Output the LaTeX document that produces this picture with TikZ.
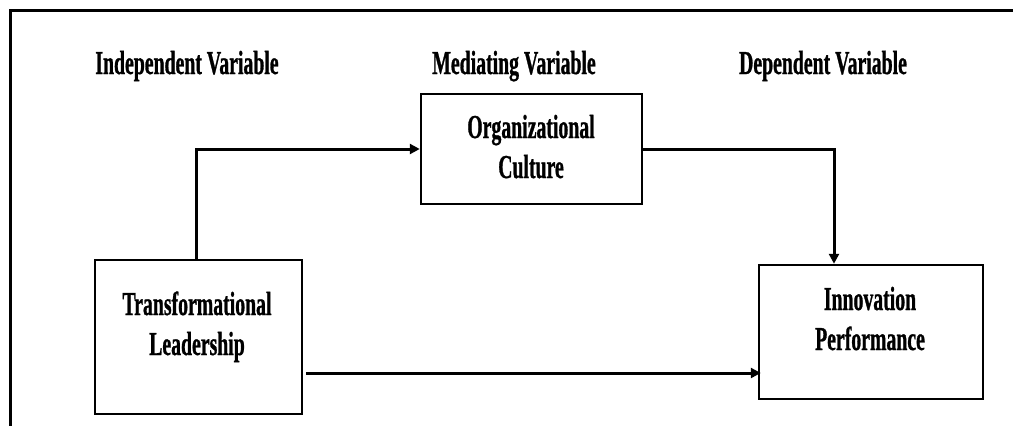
\documentclass[tikz,border=0pt]{standalone}
\usepackage{fontspec}
\setmainfont{Liberation Serif}[FakeStretch=0.59,BoldFeatures={FakeBold=0.8}]
\usetikzlibrary{arrows.meta}
\begin{document}
\begin{tikzpicture}[x=1pt,y=1pt,
  box/.style={draw=black,line width=2.5pt,inner sep=0pt,fill=white},
  lbl/.style={anchor=base,inner sep=0pt,font=\fontsize{33.5}{40}\selectfont\bfseries},
  arr/.style={line width=3pt,-{Triangle[length=10pt,width=10pt]}}]
\useasboundingbox (0,0) rectangle (1013,-426);
\fill[white] (0,0) rectangle (1013,-426);
\draw[line width=3pt] (10,-426) -- (10,-10) -- (1013,-10);
% headers
\node[lbl] (hiv) at (187,-74) {Independent Variable};
\node[lbl] (hmv) at (514,-74) {Mediating Variable};
\node[lbl] (hdv) at (823,-74) {Dependent Variable};
% boxes
\node[box,minimum width=207pt,minimum height=154pt] (tl) at (198.5,-337) {};
\node[box,minimum width=221pt,minimum height=110pt] (oc) at (531.5,-149) {};
\node[box,minimum width=224pt,minimum height=134pt] (ip) at (871,-332) {};
% box texts
\node[lbl] (tl1) at (197,-315) {Transformational};
\node[lbl] (tl2) at (197,-355) {Leadership};
\node[lbl] (oc1) at (531,-138) {Organizational};
\node[lbl] (oc2) at (531,-178) {Culture};
\node[lbl] (ip1) at (870,-310) {Innovation};
\node[lbl] (ip2) at (870,-350) {Performance};
% connectors
\draw[arr] ([xshift=-2.5pt]tl.north) |- (oc.west);
\draw[arr] (oc.east) -| ([xshift=-37pt]ip.north);
\draw[arr] ([shift={(3pt,-36pt)}]tl.east) -- ([shift={(3pt,-36pt)}]tl.east -| ip.west);
\end{tikzpicture}
\end{document}
